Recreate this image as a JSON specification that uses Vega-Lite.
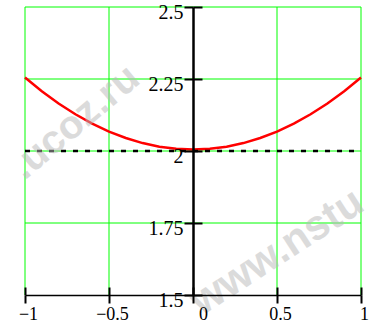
{
  "$schema": "https://vega.github.io/schema/vega-lite/v6.json",
  "width": 336,
  "height": 288,
  "autosize": "none",
  "padding": {"left": 25, "top": 7, "right": 17, "bottom": 28},
  "background": "white",
  "config": {
    "view": {"stroke": null},
    "axis": {"labelFont": "Liberation Serif", "labelFontSize": 20, "labelColor": "black"}
  },
  "layer": [
    {
      "data": {"values": [{"v": -1}, {"v": -0.5}, {"v": 0.5}, {"v": 1}]},
      "mark": {"type": "rule", "color": "#00ff00", "strokeWidth": 1},
      "encoding": {
        "x": {"field": "v", "type": "quantitative", "scale": {"domain": [-1, 1], "nice": false, "zero": false}, "axis": null}
      }
    },
    {
      "data": {"values": [{"v": 1.75}, {"v": 2}, {"v": 2.25}, {"v": 2.5}]},
      "mark": {"type": "rule", "color": "#00ff00", "strokeWidth": 1},
      "encoding": {
        "y": {"field": "v", "type": "quantitative", "scale": {"domain": [1.5, 2.5], "nice": false, "zero": false}, "axis": null}
      }
    },
    {
      "data": {"values": [
        {"x": -1, "y": 2.255}, {"x": -0.9, "y": 2.2075}, {"x": -0.8, "y": 2.165}, {"x": -0.7, "y": 2.1275},
        {"x": -0.6, "y": 2.095}, {"x": -0.5, "y": 2.0675}, {"x": -0.4, "y": 2.045}, {"x": -0.3, "y": 2.0275},
        {"x": -0.2, "y": 2.015}, {"x": -0.1, "y": 2.0075}, {"x": 0, "y": 2.005}, {"x": 0.1, "y": 2.0075},
        {"x": 0.2, "y": 2.015}, {"x": 0.3, "y": 2.0275}, {"x": 0.4, "y": 2.045}, {"x": 0.5, "y": 2.0675},
        {"x": 0.6, "y": 2.095}, {"x": 0.7, "y": 2.1275}, {"x": 0.8, "y": 2.165}, {"x": 0.9, "y": 2.2075},
        {"x": 1, "y": 2.255}
      ]},
      "mark": {"type": "line", "color": "#ff0000", "strokeWidth": 2.5},
      "encoding": {
        "x": {
          "field": "x", "type": "quantitative",
          "scale": {"domain": [-1, 1], "nice": false, "zero": false},
          "axis": {
            "orient": "bottom", "title": null, "values": [-1, -0.5, 0, 0.5, 1], "format": ".2~f",
            "zindex": 1,
            "grid": false,
            "domain": true, "domainColor": "black", "domainWidth": 1.5,
            "tickColor": "black", "tickWidth": 2, "tickSize": 8,
            "labelFontSize": 18,
            "labelPadding": 2, "labelBaseline": "top",
            "labelFlush": false, "labelOverlap": false, "labelBound": false,
            "labelOffset": {"condition": {"test": "datum.value == 0", "value": 10}, "value": 3}
          }
        },
        "y": {
          "field": "y", "type": "quantitative",
          "scale": {"domain": [1.5, 2.5], "nice": false, "zero": false},
          "axis": {
            "orient": "left", "offset": -168, "title": null, "values": [1.5, 1.75, 2, 2.25, 2.5], "format": ".2~f",
            "zindex": 1,
            "grid": false,
            "domain": true, "domainColor": "black", "domainWidth": 2.5,
            "tickColor": "black", "tickWidth": 2, "tickSize": 9,
            "labelPadding": 1, "labelBaseline": "alphabetic", "labelAlign": "right", "labelOffset": 11,
            "labelFlush": false, "labelOverlap": false, "labelBound": false
          }
        }
      }
    },
    {
      "data": {"values": [{"x": -1, "x2": 1, "y": 2}]},
      "mark": {"type": "rule", "color": "black", "strokeWidth": 2.5, "strokeDash": [5, 7]},
      "encoding": {
        "x": {
          "field": "x", "type": "quantitative",
          "axis": {
            "orient": "bottom", "title": null, "values": [-1, -0.5, 0, 0.5, 1],
            "zindex": 1,
            "grid": false, "labels": false, "domain": false,
            "tickColor": "black", "tickWidth": 2, "tickSize": -8
          }
        },
        "x2": {"field": "x2"},
        "y": {
          "field": "y", "type": "quantitative",
          "axis": {
            "orient": "left", "offset": -168, "title": null, "values": [1.5, 1.75, 2, 2.25, 2.5],
            "zindex": 1,
            "grid": false, "labels": false, "domain": false,
            "tickColor": "black", "tickWidth": 2, "tickSize": -9
          }
        }
      }
    },
    {
      "data": {"values": [{"x": -0.7, "y": 2.1, "t": ".ucoz.ru"}]},
      "mark": {"type": "text", "font": "Liberation Sans", "fontWeight": "bold", "fontSize": 40, "angle": -40, "align": "center", "baseline": "middle", "color": "#b8b8b8", "opacity": 0.5},
      "encoding": {
        "x": {"field": "x", "type": "quantitative", "axis": null},
        "y": {"field": "y", "type": "quantitative", "axis": null},
        "text": {"field": "t"}
      }
    },
    {
      "data": {"values": [{"x": 0.5, "y": 1.65, "t": "www.nstu"}]},
      "mark": {"type": "text", "font": "Liberation Sans", "fontWeight": "bold", "fontSize": 42, "angle": -33, "align": "center", "baseline": "middle", "color": "#b8b8b8", "opacity": 0.5},
      "encoding": {
        "x": {"field": "x", "type": "quantitative", "axis": null},
        "y": {"field": "y", "type": "quantitative", "axis": null},
        "text": {"field": "t"}
      }
    }
  ],
  "resolve": {"axis": {"x": "independent", "y": "independent"}}
}
